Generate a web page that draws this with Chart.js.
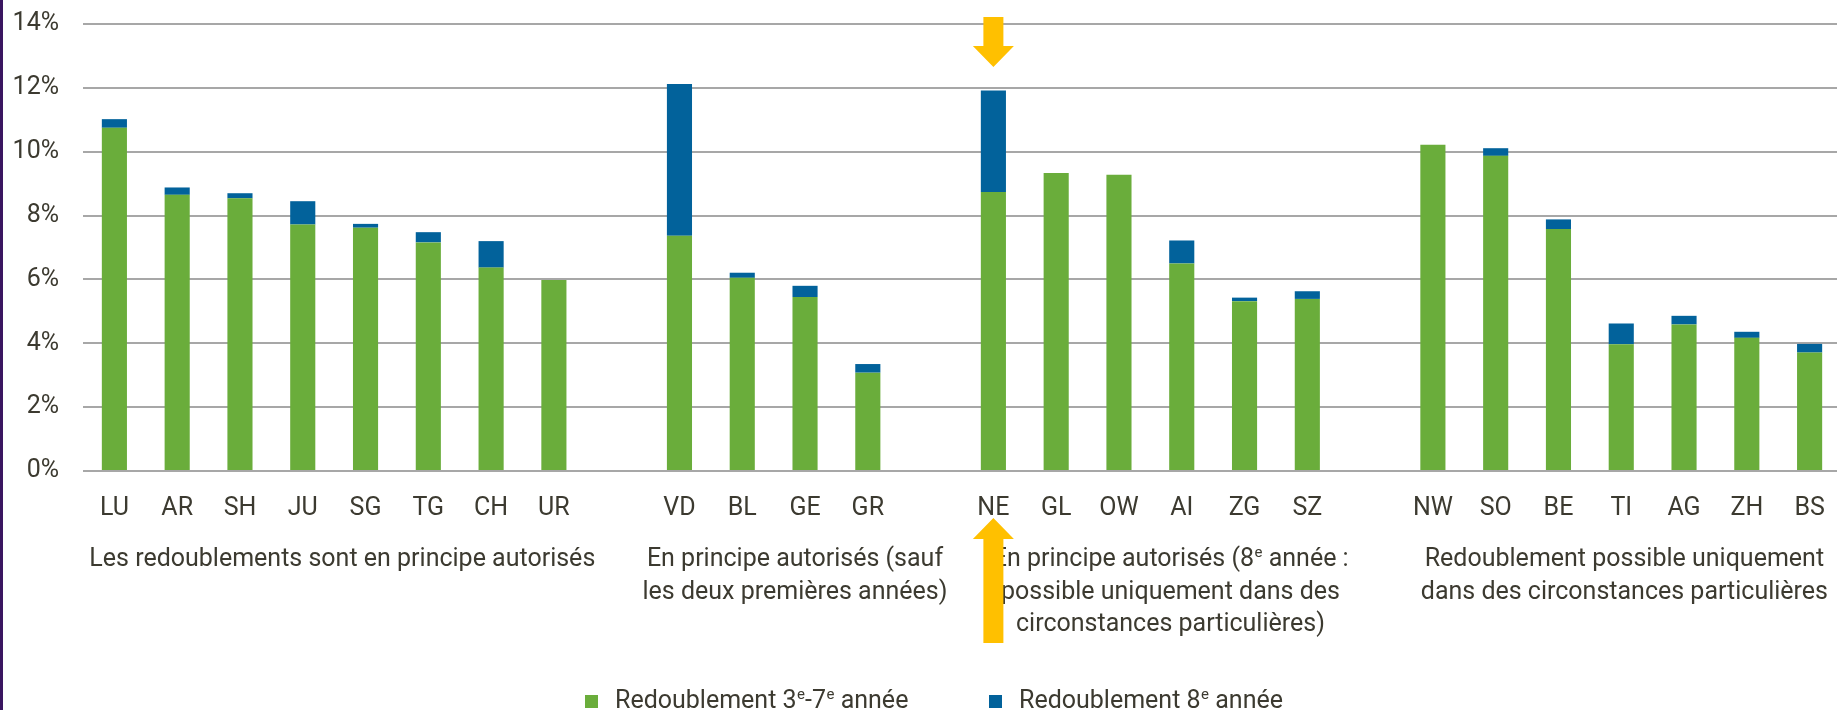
<!DOCTYPE html>
<html lang="fr">
<head>
<meta charset="utf-8">
<script src="https://cdn.jsdelivr.net/npm/chart.js@4.4.0/dist/chart.umd.min.js"></script>
<style>
  html, body { margin: 0; padding: 0; background: #fff; overflow: hidden; }
  #cadre { position: relative; width: 1841px; height: 710px; }
</style>
</head>
<body>
<div id="cadre"><canvas id="graphique-redoublement"></canvas></div>
<script>
// Cantons (les "" sont les espaces entre les groupes)
const cantons = ["LU", "AR", "SH", "JU", "SG", "TG", "CH", "UR", "",
  "VD", "BL", "GE", "GR", "",
  "NE", "GL", "OW", "AI", "ZG", "SZ", "",
  "NW", "SO", "BE", "TI", "AG", "ZH", "BS"];

// Taux de redoublement en %
const redoublement37 = [10.75, 8.65, 8.54, 7.72, 7.62, 7.16, 6.37, 5.98, null,
  7.37, 6.05, 5.45, 3.08, null,
  8.74, 9.33, 9.28, 6.50, 5.32, 5.39, null,
  10.22, 9.87, 7.58, 3.97, 4.59, 4.17, 3.71];
const redoublement8 = [0.27, 0.23, 0.16, 0.73, 0.12, 0.32, 0.83, 0, null,
  4.75, 0.16, 0.35, 0.27, null,
  3.18, 0, 0, 0.72, 0.11, 0.24, null,
  0, 0.24, 0.30, 0.65, 0.27, 0.19, 0.27];

const graduations = [0, 2, 4, 6, 8, 10, 12, 14];

// Légendes des groupes (^e = e en exposant)
const groupes = [
  ["Les redoublements sont en principe autorisés"],
  ["En principe autorisés (sauf", "les deux premières années)"],
  ["En principe autorisés (8^e année :", "possible uniquement dans des", "circonstances particulières)"],
  ["Redoublement possible uniquement", "dans des circonstances particulières"],
];
const libellesSeries = ["Redoublement 3^e-7^e année", "Redoublement 8^e année"];

const VERT = "rgb(106, 173, 59)";
const BLEU = "rgb(2, 98, 155)";
const JAUNE = "#ffc000";
const TEXTE = "#3c3a30";
const POLICE = "Roboto, 'Liberation Sans', sans-serif";
const TAILLE = 25;

// écrit un texte avec des "e" en exposant, centré ou aligné à gauche
function ecrireTexte(ctx, texte, x, y, aligne) {
  const morceaux = texte.split(/(\^e)/).filter((m) => m !== "");
  const normal = TAILLE + "px " + POLICE;
  const petit = Math.round(TAILLE * 0.6) + "px " + POLICE;
  let largeur = 0;
  for (const m of morceaux) {
    ctx.font = m === "^e" ? petit : normal;
    largeur += ctx.measureText(m === "^e" ? "e" : m).width;
  }
  let cx = aligne === "center" ? x - largeur / 2 : x;
  ctx.textAlign = "left";
  ctx.textBaseline = "middle";
  ctx.fillStyle = TEXTE;
  for (const m of morceaux) {
    if (m === "^e") {
      ctx.font = petit;
      ctx.fillText("e", cx + 0.5, y - 7);
      cx += ctx.measureText("e").width + 0.5;
    } else {
      ctx.font = normal;
      ctx.fillText(m, cx, y);
      cx += ctx.measureText(m).width;
    }
  }
}

function fleche(ctx, x, yBase, yPointe, yTete, demiTige, demiTete) {
  ctx.beginPath();
  ctx.moveTo(x - demiTige, yBase);
  ctx.lineTo(x + demiTige, yBase);
  ctx.lineTo(x + demiTige, yTete);
  ctx.lineTo(x + demiTete, yTete);
  ctx.lineTo(x, yPointe);
  ctx.lineTo(x - demiTete, yTete);
  ctx.lineTo(x - demiTige, yTete);
  ctx.closePath();
  ctx.fill();
}

const decor = {
  id: "decor",
  beforeDraw(chart) {
    const ctx = chart.ctx;
    ctx.save();
    ctx.fillStyle = "#fff";
    ctx.fillRect(0, 0, chart.width, chart.height);
    ctx.fillStyle = "#3a1560";
    ctx.fillRect(0, 0, 3, chart.height);
    ctx.restore();
  },
  afterDraw(chart) {
    const ctx = chart.ctx;
    const x = chart.scales.x;
    ctx.save();
    // légendes des groupes, centrées sous chaque groupe de cantons
    const centres = [3.63, 10.84, 16.82, 24.05];
    groupes.forEach((lignes, g) => {
      const cx = x.getPixelForValue(centres[g]);
      lignes.forEach((ligne, i) => {
        ecrireTexte(ctx, ligne, cx, 560 + i * 32.5, "center");
      });
    });
    // flèches jaunes sur NE
    const xNE = x.getPixelForValue(cantons.indexOf("NE"));
    ctx.fillStyle = JAUNE;
    fleche(ctx, xNE, 17, 67, 46, 10, 20.5);
    fleche(ctx, xNE, 643, 518, 539, 10, 20.5);
    // légende des séries
    const couleurs = [VERT, BLEU];
    const positions = [585, 989];
    libellesSeries.forEach((lib, i) => {
      ctx.fillStyle = couleurs[i];
      ctx.fillRect(positions[i], 695, 13, 13);
      ecrireTexte(ctx, lib, positions[i] + 30, 702, "left");
    });
    ctx.restore();
  },
};

const data = {
  labels: cantons,
  datasets: [
    { label: "Redoublement 3e-7e année", data: redoublement37, backgroundColor: VERT },
    { label: "Redoublement 8e année", data: redoublement8, backgroundColor: BLEU },
  ],
};

const config = {
  type: "bar",
  data: data,
  options: {
    responsive: true,
    maintainAspectRatio: false,
    animation: false,
    devicePixelRatio: 1,
    layout: { padding: { top: 24, left: 0, right: 0, bottom: 0 } },
    datasets: { bar: { barPercentage: 0.4, categoryPercentage: 1 } },
    plugins: { legend: { display: false }, tooltip: { enabled: false } },
    scales: {
      x: {
        stacked: true,
        grid: { display: false, drawTicks: false },
        border: { display: false },
        ticks: {
          padding: 23,
          color: TEXTE,
          font: { family: POLICE, size: TAILLE },
          autoSkip: false,
          maxRotation: 0,
        },
        afterFit: (scale) => {
          scale.height = 239;
          scale.paddingLeft = 0;
          scale.paddingRight = 0;
        },
      },
      y: {
        stacked: true,
        min: 0,
        max: 14,
        grid: { color: "#a7a7a7", lineWidth: 2, drawTicks: false },
        border: { display: false },
        afterBuildTicks: (scale) => { scale.ticks = graduations.map((v) => ({ value: v })); },
        ticks: {
          padding: 24,
          color: TEXTE,
          font: { family: POLICE, size: TAILLE },
          callback: (v) => v + "%",
        },
        afterFit: (scale) => {
          scale.width = 83;
          scale.paddingTop = 0;
          scale.paddingBottom = 0;
        },
      },
    },
  },
  plugins: [decor],
};

new Chart(document.querySelector("#graphique-redoublement"), config);
</script>
</body>
</html>
